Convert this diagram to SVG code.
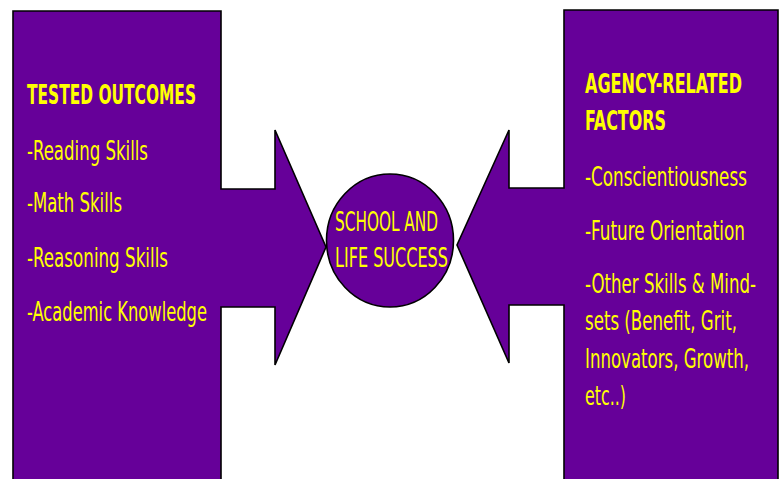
<svg xmlns="http://www.w3.org/2000/svg" width="781" height="479" viewBox="0 0 781 479">
<style>
.shape{fill:#660099;stroke:#000;stroke-width:1.6;stroke-linejoin:miter}
text{font-family:"DejaVu Sans Condensed","DejaVu Sans","Liberation Sans",sans-serif;font-stretch:condensed;fill:#FFFF00;font-size:26.5px}
.b{font-weight:bold}
</style>
<rect width="781" height="479" fill="#fff"/>
<g id="tested-outcomes">
<polygon class="shape" points="13,11 221,11 221,189 275,189 275,130 326,247 275,365 275,307 221,307 221,483 13,483"/>
<text class="b" x="27" y="104" textLength="169" lengthAdjust="spacingAndGlyphs">TESTED OUTCOMES</text>
<text x="27" y="160" textLength="121" lengthAdjust="spacingAndGlyphs">-Reading Skills</text>
<text x="27" y="212" textLength="95" lengthAdjust="spacingAndGlyphs">-Math Skills</text>
<text x="27" y="267" textLength="141" lengthAdjust="spacingAndGlyphs">-Reasoning Skills</text>
<text x="27" y="321" textLength="180" lengthAdjust="spacingAndGlyphs">-Academic Knowledge</text>
</g>
<g id="agency-factors">
<polygon class="shape" points="564,10 778,10 778,483 564,483 564,305 509,305 509,363 457,245 509,130 509,188 564,188"/>
<text class="b" x="585" y="93" textLength="157" lengthAdjust="spacingAndGlyphs">AGENCY-RELATED</text>
<text class="b" x="585" y="130" textLength="81" lengthAdjust="spacingAndGlyphs">FACTORS</text>
<text x="585" y="186" textLength="162" lengthAdjust="spacingAndGlyphs">-Conscientiousness</text>
<text x="585" y="240" textLength="160" lengthAdjust="spacingAndGlyphs">-Future Orientation</text>
<text x="585" y="293" textLength="171" lengthAdjust="spacingAndGlyphs">-Other Skills &amp; Mind-</text>
<text x="585" y="330" textLength="152" lengthAdjust="spacingAndGlyphs">sets (Benefit, Grit,</text>
<text x="585" y="368" textLength="164" lengthAdjust="spacingAndGlyphs">Innovators, Growth,</text>
<text x="585" y="405" textLength="41" lengthAdjust="spacingAndGlyphs">etc..)</text>
</g>
<g id="school-life-success">
<ellipse class="shape" cx="390" cy="240.5" rx="63.5" ry="66.5"/>
<text x="335" y="231" textLength="103" lengthAdjust="spacingAndGlyphs">SCHOOL AND</text>
<text x="335" y="267" textLength="113" lengthAdjust="spacingAndGlyphs">LIFE SUCCESS</text>
</g>
<g id="connectors"></g>
</svg>
